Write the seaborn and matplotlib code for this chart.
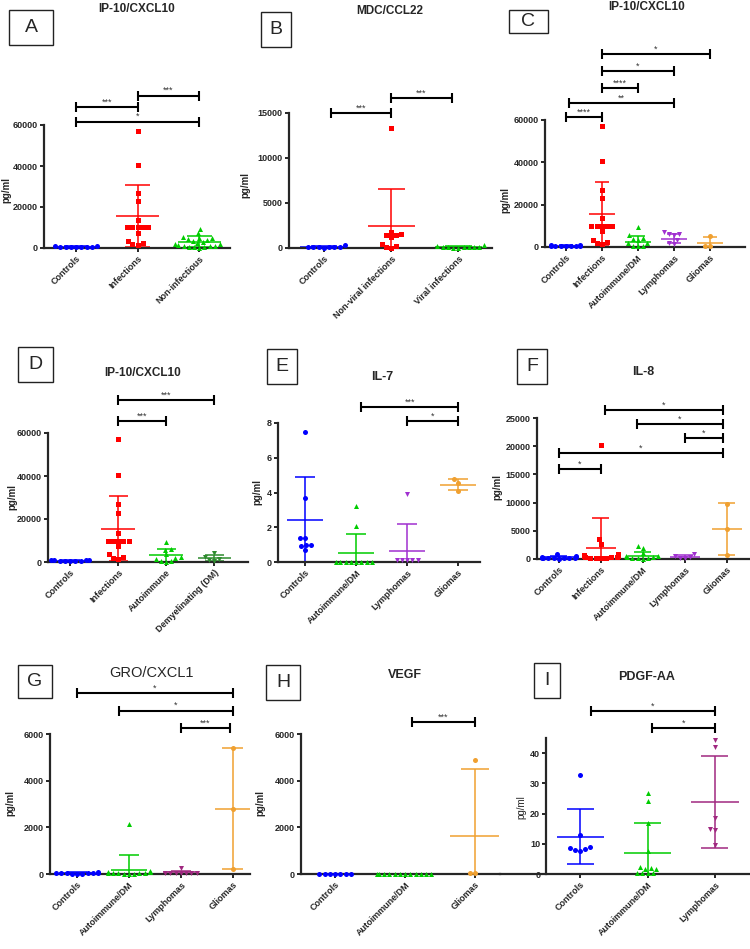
import warnings
import matplotlib.pyplot as plt
from matplotlib.patches import Rectangle
import seaborn as sns

warnings.filterwarnings('ignore')

blue = '#0000FF'
red = '#FF0000'
green = '#00CC00'
dkgreen = '#2E8B2E'
purple = '#A030D0'
magenta = '#A02880'
orange = '#F0A030'

# ---------------- data (pg/ml) ----------------
ip10_ctrl = [600, 800, 500, 700, 400, 600, 500, 700, 900]
ip10_inf = [57000, 40500, 27000, 23000, 13500, 10000, 10000, 10000, 10000, 10000,
            7500, 3500, 2200, 1500, 2000]

a_cats = ['Controls', 'Infections', 'Non-infectious']
a_noninf = [9500, 7200, 5500, 5000, 4800, 4500, 4000, 3500, 3000, 2500,
            2000, 1800, 1500, 1200, 1000, 800, 600, 500, 300, 200]
a_mean = [600, 15500, 3000]
a_sd = [300, 15000, 2700]

b_cats = ['Controls', 'Non-viral infections', 'Viral infections']
b_ctrl = [300, 100, 50, 80, 60, 100, 90, 120]
b_nonviral = [13300, 1800, 1500, 1400, 1450, 1200, 400, 200, 100, 50]
b_viral = [300, 100, 50, 80, 120, 60, 30, 100, 150, 200]
b_mean = [120, 2400, 100]
b_sd = [80, 4200, 80]

c_cats = ['Controls', 'Infections', 'Autoimmune/DM', 'Lymphomas', 'Gliomas']
c_auto = [9500, 5500, 4200, 3800, 3500, 2000, 1800, 600, 500, 400]
c_lymph = [7000, 6000, 6200, 5800, 3500, 2000, 1500]
c_glioma = [5000, 500, 300]
c_mean = [600, 15500, 2200, 4000, 1800]
c_sd = [300, 15000, 3100, 2300, 3000]

d_cats = ['Controls', 'Infections', 'Autoimmune', 'Demyelinating (DM)']
d_auto = [9500, 6000, 5800, 3500, 2200, 2000, 1400, 500, 300, 200]
d_dm = [4200, 2200, 1400, 800, 400]
d_mean = [600, 15500, 3200, 1800]
d_sd = [300, 15000, 3000, 1400]

e_cats = ['Controls', 'Autoimmune/DM', 'Lymphomas', 'Gliomas']
e_ctrl = [7.5, 3.7, 1.4, 1.4, 1.0, 1.0, 0.9, 0.7]
e_auto = [3.2, 2.1, 0, 0, 0, 0, 0, 0, 0, 0]
e_lymph = [3.9, 0.1, 0.1, 0.1, 0.1, 0.1]
e_glioma = [4.75, 4.55, 4.1]
e_mean = [2.4, 0.5, 0.65, 4.45]
e_sd = [2.5, 1.1, 1.55, 0.32]

f_cats = ['Controls', 'Infections', 'Autoimmune/DM', 'Lymphomas', 'Gliomas']
f_ctrl = [900, 500, 300, 200, 200, 150, 100, 100, 100, 50, 300, 200]
f_inf = [20200, 3500, 2700, 800, 700, 600, 500, 400, 300, 300, 200, 200, 100, 100]
f_auto = [2300, 2000, 1000, 600, 500, 400, 300, 200, 100, 100, 50]
f_lymph = [900, 500, 300, 200, 100]
f_glioma = [9800, 5400, 700]
f_mean = [300, 2000, 600, 350, 5300]
f_sd = [250, 5200, 700, 300, 4600]

g_cats = ['Controls', 'Autoimmune/DM', 'Lymphomas', 'Gliomas']
g_ctrl = [100, 60, 40, 30, 20, 20, 30, 40, 50, 20]
g_auto = [2150, 150, 100, 80, 60, 50, 40, 30, 30, 20, 20, 10]
g_lymph = [250, 60, 50, 40, 50, 30, 60, 40]
g_glioma = [5400, 2800, 200]
g_mean = [40, 180, 70, 2800]
g_sd = [30, 640, 70, 2600]

h_cats = ['Controls', 'Autoimmune/DM', 'Gliomas']
h_ctrl = [5, 5, 5, 5, 5, 5, 5]
h_auto = [0, 0, 0, 0, 0, 0, 0, 0, 0, 0, 0, 0]
h_glioma = [4900, 40, 40]
h_mean = [5, 0, 1650]
h_sd = [0, 0, 2850]

i_cats = ['Controls', 'Autoimmune/DM', 'Lymphomas']
i_ctrl = [32.8, 12.8, 8.8, 8.5, 8.2, 7.8, 7.7]
i_auto = [26.7, 24.3, 17.0, 7.5, 2.2, 2.0, 1.7, 1.5, 0.4, 0.2, 0.2, 0.3]
i_lymph = [44.5, 42.0, 18.5, 14.8, 14.5, 9.5]
i_mean = [12.4, 7.0, 23.8]
i_sd = [9.0, 10.0, 15.3]

# significance brackets: (from, to, height, stars)
a_sig = [(0, 2, 61500, '*'), (0, 1, 68800, '***'), (1, 2, 74200, '***')]
b_sig = [(0.1, 1, 15000, '***'), (1, 1.9, 16650, '***')]
c_sig = [(0, 1, 61400, '****'), (0.08, 3, 68000, '**'), (1, 2, 75000, '****'),
         (1, 3, 83000, '*'), (1, 4, 91000, '*')]
d_sig = [(1, 2, 65500, '***'), (1, 3, 75200, '***')]
e_sig = [(1.1, 3, 8.9, '***'), (2, 3, 8.1, '*')]
f_sig = [(0, 1, 15900, '*'), (0, 3.9, 18800, '*'), (3, 3.9, 21400, '*'),
         (1.86, 3.9, 23900, '*'), (1.1, 3.9, 26400, '*')]
g_sig = [(0, 3, 7760, '*'), (0.8, 3, 7000, '*'), (2, 2.95, 6260, '***')]
h_sig = [(1.1, 2, 6500, '***')]
i_sig = [(0.16, 2, 53.8, '*'), (1.06, 2, 48.2, '*')]

sns.set_style('ticks')
plt.rcParams['font.family'] = ['Liberation Sans', 'DejaVu Sans']

W, H = 750, 949
fig = plt.figure(figsize=(7.5, 9.49), dpi=100)


def fx(x):
    return x / W


def fy(y):
    return 1 - y / H


def panel(box, xlim, ylim, yticks, cats, groups, means, sds, colors, markers,
          sig, spine_x=None):
    x0, y0, x1, y1 = box
    ax = fig.add_axes([fx(x0), fy(y1), (x1 - x0) / W, (y1 - y0) / H])
    for i, vals in enumerate(groups):
        sns.swarmplot(x=[cats[i]] * len(vals), y=vals, order=cats, color=colors[i],
                      marker=markers[i], size=3.6, ax=ax)
    for coll in ax.collections:
        coll.set_clip_on(False)
    for i, (m, s) in enumerate(zip(means, sds)):
        c = colors[i]
        ax.hlines(m, i - 0.35, i + 0.35, color=c, lw=1.1)
        if s > 0:
            ax.vlines(i, m - s, m + s, color=c, lw=1.1)
            ax.hlines([m - s, m + s], i - 0.2, i + 0.2, color=c, lw=1.1)
    for xa, xb, yb, txt in sig:
        ax.plot([xa, xb], [yb, yb], color='k', lw=1.5, marker='|', ms=7, mew=1.5,
                clip_on=False)
        ax.annotate(txt, ((xa + xb) / 2, yb), xytext=(0, 0.5), textcoords='offset points',
                    ha='center', va='bottom', fontsize=6.5, color='#333333',
                    annotation_clip=False)
    sns.despine(ax=ax)
    for sp in ['left', 'bottom']:
        ax.spines[sp].set_linewidth(1.6)
    if spine_x is not None:
        ax.spines['left'].set_position(('data', spine_x))
    ax.set_xlim(xlim)
    ax.set_ylim(ylim)
    ax.set_yticks(yticks)
    ax.set_yticklabels([str(t) for t in yticks], fontsize=6.5, fontweight='bold')
    ax.set_xticks(range(len(cats)))
    ax.set_xticklabels(cats, rotation=45, ha='right', rotation_mode='anchor',
                       fontsize=6.5, fontweight='bold')
    ax.set_xlabel('')
    ax.set_ylabel('')
    ax.tick_params(axis='both', width=1.4, length=3, pad=1.5)
    ax.set_facecolor('none')
    return ax


def label_box(box, letter):
    x0, y0, x1, y1 = box
    fig.add_artist(Rectangle((fx(x0), fy(y1)), (x1 - x0) / W, (y1 - y0) / H,
                             transform=fig.transFigure, fill=False, lw=1.0, ec='#222222'))
    fig.text(fx((x0 + x1) / 2), fy((y0 + y1) / 2), letter, ha='center', va='center',
             fontsize=14)


def title(x, y, txt, size=8.5, weight='bold'):
    fig.text(fx(x), fy(y), txt, ha='center', va='center', fontsize=size, fontweight=weight)


def ylab(x, y, weight='bold'):
    fig.text(fx(x), fy(y), 'pg/ml', rotation=90, ha='center', va='center',
             fontsize=7, fontweight=weight)


# A
panel((44, 125, 230, 248), (-0.52, 2.5), (0, 60000), [0, 20000, 40000, 60000], a_cats,
      [ip10_ctrl, ip10_inf, a_noninf], a_mean, a_sd, [blue, red, green], ['o', 's', '^'], a_sig)
# B
panel((289, 113, 492, 248), (-0.52, 2.5), (0, 15000), [0, 5000, 10000, 15000], b_cats,
      [b_ctrl, b_nonviral, b_viral], b_mean, b_sd, [blue, red, green], ['o', 's', '^'], b_sig)
# C
panel((545, 120, 745, 247), (-0.58, 4.97), (0, 60000), [0, 20000, 40000, 60000], c_cats,
      [ip10_ctrl, ip10_inf, c_auto, c_lymph, c_glioma], c_mean, c_sd,
      [blue, red, green, purple, orange], ['o', 's', '^', 'v', 'o'], c_sig)
# D
panel((48, 433, 248, 562), (-0.46, 3.7), (0, 60000), [0, 20000, 40000, 60000], d_cats,
      [ip10_ctrl, ip10_inf, d_auto, d_dm], d_mean, d_sd,
      [blue, red, green, dkgreen], ['o', 's', '^', 'v'], d_sig)
# E
panel((278, 423, 480, 562), (-0.53, 3.43), (0, 8), [0, 2, 4, 6, 8], e_cats,
      [e_ctrl, e_auto, e_lymph, e_glioma], e_mean, e_sd,
      [blue, green, purple, orange], ['o', '^', 'v', 'o'], e_sig)
# F
panel((537, 418, 750, 559), (-0.52, 4.55), (0, 25000), [0, 5000, 10000, 15000, 20000, 25000],
      f_cats, [f_ctrl, f_inf, f_auto, f_lymph, f_glioma], f_mean, f_sd,
      [blue, red, green, purple, orange], ['o', 's', '^', 'v', 'o'], f_sig)
# G
panel((50, 734, 250, 874), (-0.52, 3.33), (0, 6000), [0, 2000, 4000, 6000], g_cats,
      [g_ctrl, g_auto, g_lymph, g_glioma], g_mean, g_sd,
      [blue, green, magenta, orange], ['o', '^', 'v', 'o'], g_sig)
# H
panel((301, 734, 500, 874), (-0.49, 2.36), (0, 6000), [0, 2000, 4000, 6000], h_cats,
      [h_ctrl, h_auto, h_glioma], h_mean, h_sd, [blue, green, orange], ['o', '^', 'o'], h_sig)
# I
panel((500, 738, 750, 874), (-1.19, 2.52), (0, 45), [0, 10, 20, 30, 40], i_cats,
      [i_ctrl, i_auto, i_lymph], i_mean, i_sd, [blue, green, magenta], ['o', '^', 'v'],
      i_sig, spine_x=-0.5)

# titles, letters, axis labels
title(137, 9, 'IP-10/CXCL10')
title(390, 11, 'MDC/CCL22')
title(647, 7, 'IP-10/CXCL10')
title(143, 373, 'IP-10/CXCL10')
title(382, 377, 'IL-7', size=9)
title(643, 372, 'IL-8', size=9)
title(152, 673, 'GRO/CXCL1', size=10.5, weight='normal')
title(405, 675, 'VEGF', size=9)
title(647, 677, 'PDGF-AA', size=9)

label_box((9, 10, 53, 45), 'A')
label_box((261, 12, 291, 47), 'B')
label_box((509, 10, 548, 33), 'C')
label_box((18, 347, 53, 382), 'D')
label_box((267, 349, 297, 384), 'E')
label_box((517, 349, 547, 384), 'F')
label_box((18, 665, 52, 698), 'G')
label_box((266, 665, 300, 700), 'H')
label_box((534, 663, 560, 698), 'I')

ylab(6, 190)
ylab(245, 185)
ylab(505, 200)
ylab(12, 497)
ylab(257, 492)
ylab(497, 487)
ylab(10, 803)
ylab(260, 803)
ylab(521, 807, weight='normal')

fig.savefig('out.png', dpi=100)
